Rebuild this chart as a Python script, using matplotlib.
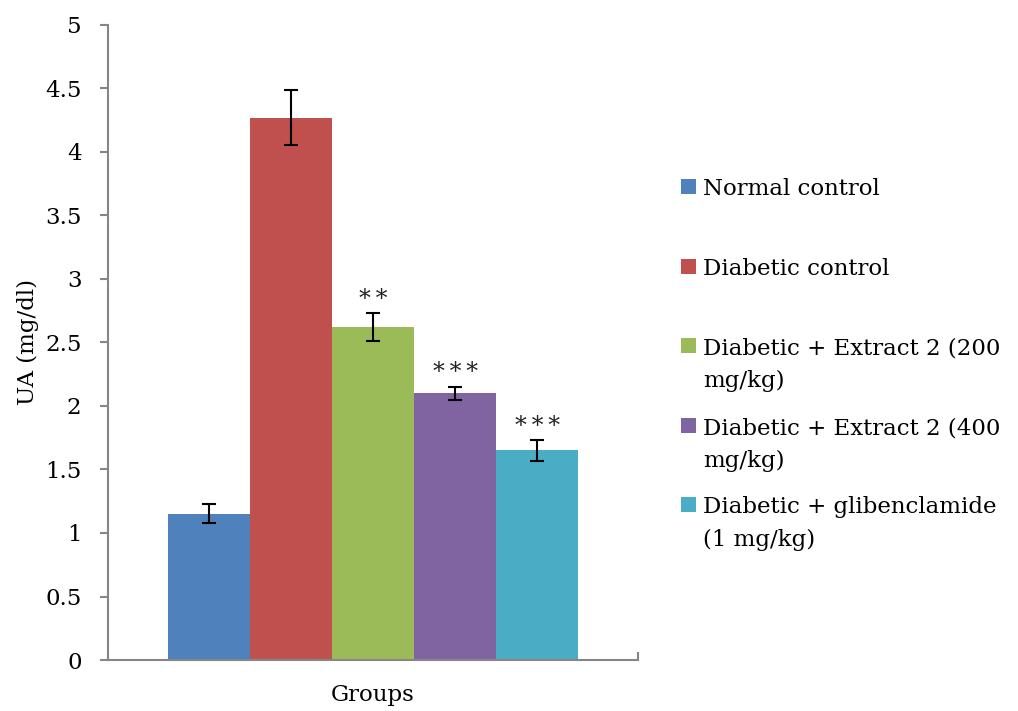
import matplotlib
matplotlib.use("Agg")
import matplotlib.pyplot as plt
from matplotlib.patches import Rectangle

# Uric acid levels per treatment group
groups = ["Normal control", "Diabetic control",
          "Diabetic + Extract 2 (200\nmg/kg)",
          "Diabetic + Extract 2 (400\nmg/kg)",
          "Diabetic + glibenclamide\n(1 mg/kg)"]
means = [1.15, 4.27, 2.62, 2.10, 1.65]
errors = [0.075, 0.215, 0.11, 0.05, 0.08]
signif = ["", "", "**", "***", "***"]
colors = ["#4F81BD", "#C0504D", "#9BBB59", "#8064A2", "#4BACC6"]
yticks = [0, 0.5, 1, 1.5, 2, 2.5, 3, 3.5, 4, 4.5, 5]
ytick_labels = ["0", "0.5", "1", "1.5", "2", "2.5", "3", "3.5", "4", "4.5", "5"]

plt.rcParams["font.family"] = ["DejaVu Serif"]
axis_gray = "#868686"
FS = 16.5

fig = plt.figure(figsize=(10.18, 7.11), dpi=100)
ax = fig.add_axes([0.106, 0.0717, 0.521, 0.8933])

x = list(range(len(means)))
ax.bar(x, means, width=1.0, color=colors, edgecolor="none", zorder=2)
ax.errorbar(x, means, yerr=errors, fmt="none", ecolor="black",
            elinewidth=1.5, capsize=5, capthick=1.5, zorder=3)
for xi, m, e, s in zip(x, means, errors, signif):
    if s:
        ax.text(xi, m + e + 0.06, "\u2009".join(s), ha="center", va="baseline",
                fontsize=17, color="#222222")

ax.set_xlim(-1.23, 5.23)
ax.set_ylim(0, 5)
ax.set_yticks(yticks)
ax.set_yticklabels(ytick_labels, fontsize=FS)
ax.set_xticks([-1.23, 5.23])
ax.set_xticklabels([])
ax.tick_params(axis="x", direction="in", length=6, color=axis_gray, width=1.5)
ax.tick_params(axis="y", direction="out", length=6, color=axis_gray, width=1.5, pad=13)
for side in ("top", "right"):
    ax.spines[side].set_visible(False)
for side in ("left", "bottom"):
    ax.spines[side].set_color(axis_gray)
    ax.spines[side].set_linewidth(1.5)

ax.set_ylabel("UA (mg/dl)", fontsize=16.5, labelpad=4)
ax.set_xlabel("Groups", fontsize=FS, labelpad=14)

# Legend drawn as colour squares with wrapped labels
W, H = 1018, 711
legend_baselines = [195, 275, 354, 434, 513]
line_step = 33
for label, c, base in zip(groups, colors, legend_baselines):
    fig.patches.append(Rectangle((681 / W, 1 - (base - 1) / H), 15 / W, 15 / H,
                                 transform=fig.transFigure, facecolor=c,
                                 edgecolor="none"))
    for i, line in enumerate(label.split("\n")):
        fig.text(703 / W, 1 - (base + i * line_step) / H, line,
                 ha="left", va="baseline", fontsize=FS)

fig.savefig("out.png", dpi=100)
